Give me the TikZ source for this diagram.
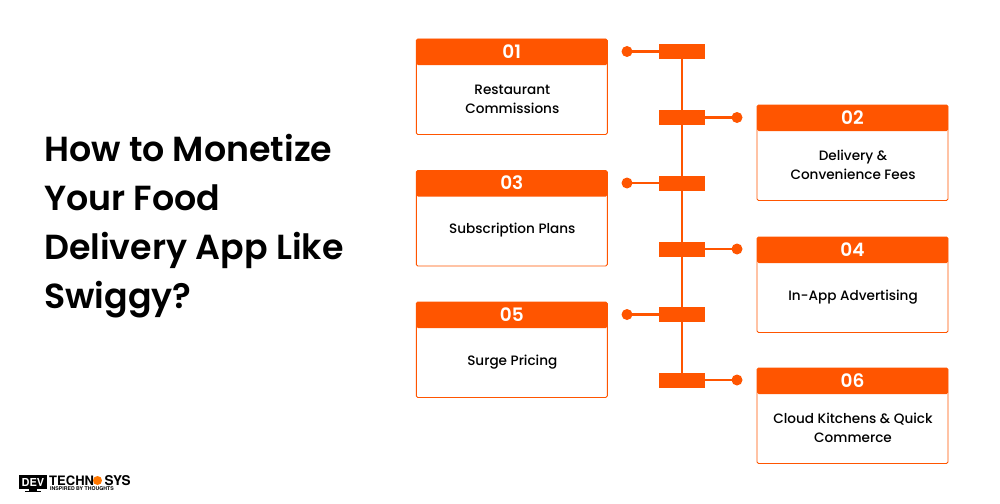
\documentclass[tikz,border=0pt]{standalone}
\usepackage{fontspec}
\setmainfont{Poppins Medium}
\newfontfamily\titlefont{Poppins SemiBold}
\newfontfamily\logofont{TeX Gyre Heros}
\definecolor{brand}{HTML}{FF5500}
\tikzset{x=1pt,y=-1pt,
  cardframe/.style={draw=brand,line width=0.9pt,fill=white,rounded corners=1.5pt},
  cardhead/.style={fill=brand,rounded corners=1.5pt},
  numtext/.style={text=white,font=\titlefont\fontsize{18.5}{20}\selectfont,inner sep=0pt},
  bodytext/.style={text=black,font=\fontsize{13.6}{19}\selectfont,align=center,inner sep=0pt},
  tabbox/.style={fill=brand,minimum width=46.5pt,minimum height=15pt,inner sep=0pt},
  tipdot/.style={circle,fill=brand,minimum size=11pt,inner sep=0pt},
  linkline/.style={draw=brand,line width=2.6pt},
  titletext/.style={text=black,font=\titlefont\fontsize{34.8}{49}\selectfont,align=left,inner sep=0pt,anchor=north west}
}
\newcommand{\card}[5]{% name, left, top, number, text
  \path[cardframe] (#2,#3) rectangle (#2+191,#3+95.5);
  \path[cardhead] (#2,#3) rectangle (#2+191,#3+26);
  \node[numtext] (#1num) at (#2+95.5,#3+12.5) {#4};
  \node[bodytext] (#1txt) at (#2+96,#3+60) {#5};
}
\begin{document}
\begin{tikzpicture}
\useasboundingbox (0,0) rectangle (1000,503);
\fill[white] (0,0) rectangle (1000,503);
\node[titletext] (title) at (44,134.5) {How to Monetize\\Your Food\\Delivery App Like\\Swiggy?};
\card{a}{416.3}{39}{01}{Restaurant\\Commissions}
\card{b}{757}{105}{02}{Delivery \&\\Convenience Fees}
\card{c}{416.3}{170.5}{03}{Subscription Plans}
\card{d}{757}{237}{04}{In-App Advertising}
\card{e}{416.3}{302}{05}{Surge Pricing}
\card{f}{757}{368}{06}{Cloud Kitchens \& Quick\\Commerce}
\node[tabbox] (t1) at (682,51.5) {};
\node[tabbox] (t2) at (682,117.5) {};
\node[tabbox] (t3) at (682,183) {};
\node[tabbox] (t4) at (682,249) {};
\node[tabbox] (t5) at (682,314.5) {};
\node[tabbox] (t6) at (682,380) {};
\node[tipdot] (d1) at (627,51.5) {};
\node[tipdot] (d2) at (737,117.5) {};
\node[tipdot] (d3) at (627,183) {};
\node[tipdot] (d4) at (737,249) {};
\node[tipdot] (d5) at (627,314.5) {};
\node[tipdot] (d6) at (737,380) {};
\draw[linkline] (t1.center) -- (t6.center);
\foreach \i in {1,...,6} {\draw[linkline] (t\i.center) -- (d\i.center);}
% logo
\fill[black] (19,475) rectangle (47,488.5);
\fill[black] (29,488.5) rectangle (37,491);
\fill[black] (25,490.5) rectangle (41,491.5);
\node[text=white,font=\logofont\fontsize{11}{11}\selectfont\bfseries,inner sep=0pt] (logodev) at (33,482) {DEV};
\node[text=black,font=\logofont\fontsize{13}{13}\selectfont\bfseries,inner sep=0pt,anchor=west] (logotech) at (49,480.5) {TECHN};
\fill[brand!80!yellow] (97.5,480.5) circle (4.5pt);
\node[text=black,font=\logofont\fontsize{13.5}{13}\selectfont\bfseries,inner sep=0pt,anchor=west] (logosys) at (104.5,480.5) {SYS};
\node[text=black,font=\logofont\fontsize{5.2}{5}\selectfont\bfseries,inner sep=0pt,anchor=west] (logotag) at (50,489) {INSPIRED BY THOUGHTS};
\end{tikzpicture}
\end{document}
